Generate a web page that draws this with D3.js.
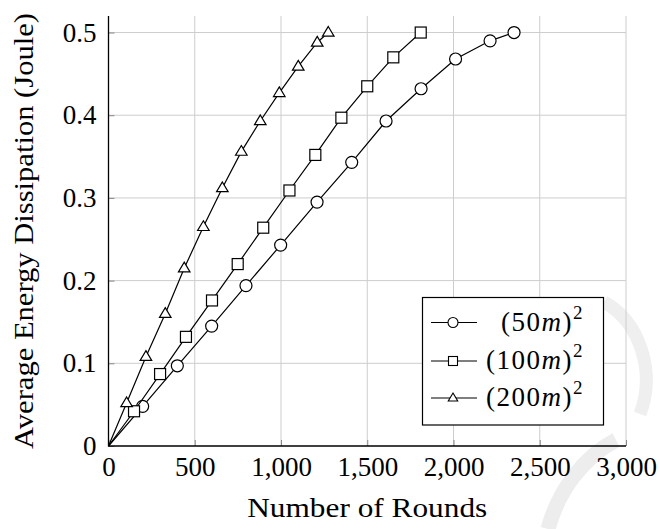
<!DOCTYPE html>
<html>
<head>
<meta charset="utf-8">
<script src="https://cdnjs.cloudflare.com/ajax/libs/d3/7.8.5/d3.min.js"></script>
<style>
    body { margin: 0; background: #fff; }
    svg text { font-family: "Liberation Serif", "DejaVu Serif", serif; fill: #000; }
</style>
</head>
<body>
<div id="chart"></div>
<script>
// rounds (x) and energy (y) for each field size
let rounds_50 = [0, 198, 399, 598, 797, 998, 1209, 1410, 1609, 1812, 2012, 2212, 2351]
let energy_50 = [0, 0.048, 0.097, 0.145, 0.194, 0.243, 0.295, 0.343, 0.393, 0.432, 0.468, 0.490, 0.500]
let rounds_100 = [0, 148, 299, 449, 600, 749, 897, 1049, 1199, 1350, 1500, 1651, 1810]
let energy_100 = [0, 0.042, 0.087, 0.132, 0.176, 0.220, 0.264, 0.309, 0.352, 0.397, 0.435, 0.470, 0.500]
let rounds_200 = [0, 105, 217, 329, 439, 550, 660, 770, 880, 990, 1100, 1210, 1274]
let energy_200 = [0, 0.052, 0.108, 0.160, 0.215, 0.265, 0.312, 0.356, 0.393, 0.427, 0.459, 0.488, 0.500]

let series_names = ["50", "100", "200"]
let series_markers = ["circle", "square", "triangle"]
let x_ticks = [0, 500, 1000, 1500, 2000, 2500, 3000]
let y_ticks = [0, 0.1, 0.2, 0.3, 0.4, 0.5]
let x_label = "Number of Rounds"
let y_label = "Average Energy Dissipation (Joule)"

function renderChart() {
    let width = 660
    let height = 529
    let plot = { left: 108.5, right: 626, top: 16, bottom: 446 }
    let grid_color = "#cdcdcd"
    let font_size = "27px"

    let series = [
        { name: series_names[0], marker: series_markers[0], xs: rounds_50, ys: energy_50 },
        { name: series_names[1], marker: series_markers[1], xs: rounds_100, ys: energy_100 },
        { name: series_names[2], marker: series_markers[2], xs: rounds_200, ys: energy_200 }
    ]

    let svg = d3.select('#chart')
        .append('svg')
        .attr("width", width)
        .attr("height", height)

    // faint watermark in the lower right corner of the original
    svg.append("path")
        .attr("d", "M548,529 C558,492 582,458 616,440")
        .attr("fill", "none").attr("stroke", "#ededed").attr("stroke-width", 15)
    svg.append("path")
        .attr("d", "M604,302 C640,322 656,372 640,414")
        .attr("fill", "none").attr("stroke", "#efefef").attr("stroke-width", 13)

    var x = d3.scaleLinear()
        .domain([0, 3000])
        .range([plot.left, plot.right]);
    var y = d3.scaleLinear()
        .domain([0, 0.52])
        .range([plot.bottom, plot.top]);

    // grid
    svg.append("g").selectAll("line")
        .data(x_ticks.slice(1))
        .enter().append("line")
        .attr("x1", d => x(d)).attr("x2", d => x(d))
        .attr("y1", plot.top).attr("y2", plot.bottom)
        .attr("stroke", grid_color).attr("stroke-width", 1)
    svg.append("g").selectAll("line")
        .data(y_ticks.slice(1))
        .enter().append("line")
        .attr("x1", plot.left).attr("x2", plot.right)
        .attr("y1", d => y(d)).attr("y2", d => y(d))
        .attr("stroke", grid_color).attr("stroke-width", 1)

    // axes, ticks point inward like pgfplots
    let xAxis = svg.append("g")
        .attr("transform", "translate(0," + plot.bottom + ")")
        .call(d3.axisBottom(x).tickValues(x_ticks).tickSize(-6).tickPadding(11)
            .tickFormat(d3.format(",")))
    let yAxis = svg.append("g")
        .attr("transform", "translate(" + plot.left + ",0)")
        .call(d3.axisLeft(y).tickValues(y_ticks).tickSize(-6).tickPadding(12)
            .tickFormat(d => d === 0 ? "0" : d3.format(".1f")(d)))
    for (let ax of [xAxis, yAxis]) {
        ax.select(".domain").remove()
        ax.selectAll(".tick line").attr("stroke", "#8a8a8a")
        ax.selectAll(".tick text")
            .style("font-family", '"Liberation Serif", serif')
            .style("font-size", font_size)
    }
    svg.append("line")
        .attr("x1", plot.left).attr("x2", plot.left)
        .attr("y1", plot.top).attr("y2", plot.bottom + 0.5)
        .attr("stroke", "#000").attr("stroke-width", 1.3)
    svg.append("line")
        .attr("x1", plot.left).attr("x2", plot.right)
        .attr("y1", plot.bottom).attr("y2", plot.bottom)
        .attr("stroke", "#000").attr("stroke-width", 1.3)

    // axis titles (stretched a bit, the original font is wider)
    svg.append("text")
        .attr("x", (plot.left + plot.right) / 2)
        .attr("y", 517)
        .attr("text-anchor", "middle")
        .attr("textLength", 240)
        .attr("lengthAdjust", "spacingAndGlyphs")
        .style("font-size", font_size)
        .text(x_label)
    svg.append("text")
        .attr("transform", "translate(33," + ((plot.top + plot.bottom) / 2) + ") rotate(-90)")
        .attr("text-anchor", "middle")
        .attr("textLength", 436)
        .attr("lengthAdjust", "spacingAndGlyphs")
        .style("font-size", font_size)
        .text(y_label)

    function drawMarker(g, kind, cx, cy, s) {
        if (kind == "circle") {
            g.append("circle").attr("cx", cx).attr("cy", cy).attr("r", s)
        } else if (kind == "square") {
            g.append("rect").attr("x", cx - s).attr("y", cy - s)
                .attr("width", 2 * s).attr("height", 2 * s)
        } else {
            let h = s * 1.1
            g.append("path").attr("d",
                "M" + cx + "," + (cy - h) +
                "L" + (cx + s * 1.05) + "," + (cy + h * 0.6) +
                "L" + (cx - s * 1.05) + "," + (cy + h * 0.6) + "Z")
        }
    }

    let line = d3.line()
        .x(d => x(d[0]))
        .y(d => y(d[1]))

    for (let s of series) {
        let pts = s.xs.map((v, i) => [v, s.ys[i]])
        svg.append("path")
            .datum(pts)
            .attr("d", line)
            .attr("fill", "none")
            .attr("stroke", "#000")
            .attr("stroke-width", 1.2)
        let g = svg.append("g")
            .attr("fill", "#fff").attr("stroke", "#000").attr("stroke-width", 1.2)
        // first point is the origin, drawn without a marker
        for (let i = 1; i < pts.length; i++) {
            drawMarker(g, s.marker, x(pts[i][0]), y(pts[i][1]), s.marker == "circle" ? 6 : 5.5)
        }
    }

    // legend
    let legend = { x: 422.5, y: 297.5, w: 181, h: 127.5 }
    svg.append("rect")
        .attr("x", legend.x).attr("y", legend.y)
        .attr("width", legend.w).attr("height", legend.h)
        .attr("fill", "#fff").attr("stroke", "#000").attr("stroke-width", 1.2)
    let row_y = [322.5, 361, 398]
    series.forEach(function(s, i) {
        let g = svg.append("g")
        g.append("line")
            .attr("x1", 431).attr("x2", 477)
            .attr("y1", row_y[i]).attr("y2", row_y[i])
            .attr("stroke", "#000").attr("stroke-width", 1.2)
        let mg = g.append("g").attr("fill", "#fff").attr("stroke", "#000").attr("stroke-width", 1.1)
        drawMarker(mg, s.marker, 453, row_y[i], s.marker == "circle" ? 5 : 4.5)
        let t = g.append("text")
            .attr("x", 584).attr("y", row_y[i] + 8)
            .attr("text-anchor", "end")
            .style("font-size", font_size)
            .style("letter-spacing", "1.5px")
        t.append("tspan").text("(" + s.name)
        t.append("tspan").style("font-style", "italic").text("m")
        t.append("tspan").text(")")
        t.append("tspan").attr("dy", -12).style("font-size", "19px").text("2")
    })
}

renderChart()
</script>
</body>
</html>
